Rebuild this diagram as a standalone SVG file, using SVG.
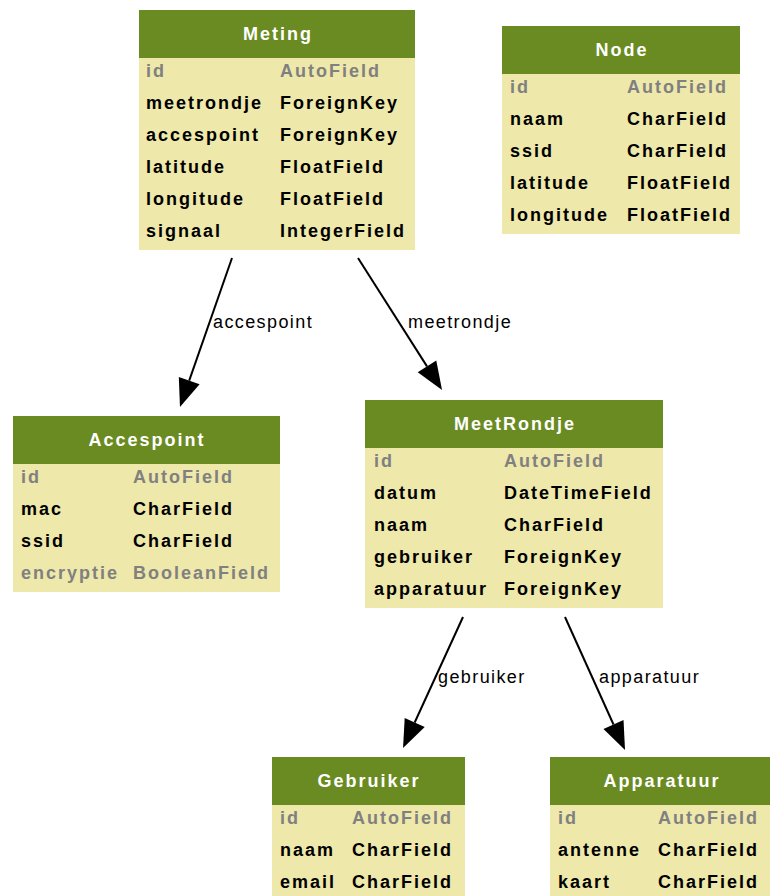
<svg xmlns="http://www.w3.org/2000/svg" width="770" height="896" viewBox="0 0 770 896">
<defs>
<marker id="arr" markerUnits="userSpaceOnUse" markerWidth="30" markerHeight="24" refX="0" refY="11" orient="auto" overflow="visible">
<path d="M0,0 L28,11 L0,22 z" fill="#000"/>
</marker>
<style>
.hd{fill:#698b22;}
.bd{fill:#eee8aa;}
.t{font-family:"Liberation Sans",Arial,sans-serif;font-size:18px;font-weight:bold;letter-spacing:2px;fill:#000;}
.g{fill:#808080;}
.ttl{font-family:"Liberation Sans",Arial,sans-serif;font-size:18px;font-weight:bold;letter-spacing:2px;fill:#fff;text-anchor:middle;}
.e{stroke:#000;stroke-width:2;fill:none;marker-end:url(#arr);}
.lb{font-family:"Liberation Sans",Arial,sans-serif;font-size:18px;letter-spacing:1.4px;fill:#000;}
</style>
</defs>
<rect width="770" height="896" fill="#fff"/>

<g id="connectors">
<line class="e" x1="232" y1="258" x2="189.2" y2="380.6"/>
<text class="lb" x="213" y="328">accespoint</text>
<line class="e" x1="358" y1="258" x2="427" y2="366.4"/>
<text class="lb" x="408" y="328">meetrondje</text>
<line class="e" x1="463" y1="617" x2="414.7" y2="722.5"/>
<text class="lb" x="438" y="683">gebruiker</text>
<line class="e" x1="565" y1="617" x2="613.5" y2="724.5"/>
<text class="lb" x="599" y="683">apparatuur</text>
</g>

<g id="node-meting">
<rect class="bd" x="139" y="58" width="276" height="192"/>
<rect class="hd" x="139" y="10" width="276" height="48"/>
<text class="ttl" x="278" y="40">Meting</text>
<text class="t g" x="146" y="77">id</text><text class="t g" x="280" y="77">AutoField</text>
<text class="t" x="146" y="109">meetrondje</text><text class="t" x="280" y="109">ForeignKey</text>
<text class="t" x="146" y="141">accespoint</text><text class="t" x="280" y="141">ForeignKey</text>
<text class="t" x="146" y="173">latitude</text><text class="t" x="280" y="173">FloatField</text>
<text class="t" x="146" y="205">longitude</text><text class="t" x="280" y="205">FloatField</text>
<text class="t" x="146" y="237">signaal</text><text class="t" x="280" y="237">IntegerField</text>
</g>

<g id="node-node">
<rect class="bd" x="502" y="74" width="238" height="160"/>
<rect class="hd" x="502" y="26" width="238" height="48"/>
<text class="ttl" x="622" y="56">Node</text>
<text class="t g" x="510" y="93">id</text><text class="t g" x="627" y="93">AutoField</text>
<text class="t" x="510" y="125">naam</text><text class="t" x="627" y="125">CharField</text>
<text class="t" x="510" y="157">ssid</text><text class="t" x="627" y="157">CharField</text>
<text class="t" x="510" y="189">latitude</text><text class="t" x="627" y="189">FloatField</text>
<text class="t" x="510" y="221">longitude</text><text class="t" x="627" y="221">FloatField</text>
</g>

<g id="node-accespoint">
<rect class="bd" x="13" y="464" width="267" height="128"/>
<rect class="hd" x="13" y="416" width="267" height="48"/>
<text class="ttl" x="147" y="446">Accespoint</text>
<text class="t g" x="21" y="483">id</text><text class="t g" x="133" y="483">AutoField</text>
<text class="t" x="21" y="515">mac</text><text class="t" x="133" y="515">CharField</text>
<text class="t" x="21" y="547">ssid</text><text class="t" x="133" y="547">CharField</text>
<text class="t g" x="21" y="579">encryptie</text><text class="t g" x="133" y="579">BooleanField</text>
</g>

<g id="node-meetrondje">
<rect class="bd" x="365" y="448" width="298" height="160"/>
<rect class="hd" x="365" y="400" width="298" height="48"/>
<text class="ttl" x="515" y="430">MeetRondje</text>
<text class="t g" x="374" y="467">id</text><text class="t g" x="504" y="467">AutoField</text>
<text class="t" x="374" y="499">datum</text><text class="t" x="504" y="499">DateTimeField</text>
<text class="t" x="374" y="531">naam</text><text class="t" x="504" y="531">CharField</text>
<text class="t" x="374" y="563">gebruiker</text><text class="t" x="504" y="563">ForeignKey</text>
<text class="t" x="374" y="595">apparatuur</text><text class="t" x="504" y="595">ForeignKey</text>
</g>

<g id="node-gebruiker">
<rect class="bd" x="272" y="805" width="193" height="96"/>
<rect class="hd" x="272" y="757" width="193" height="48"/>
<text class="ttl" x="369" y="787">Gebruiker</text>
<text class="t g" x="280" y="824">id</text><text class="t g" x="352" y="824">AutoField</text>
<text class="t" x="280" y="856">naam</text><text class="t" x="352" y="856">CharField</text>
<text class="t" x="280" y="888">email</text><text class="t" x="352" y="888">CharField</text>
</g>

<g id="node-apparatuur">
<rect class="bd" x="550" y="805" width="222" height="96"/>
<rect class="hd" x="550" y="757" width="222" height="48"/>
<text class="ttl" x="662" y="787">Apparatuur</text>
<text class="t g" x="558" y="824">id</text><text class="t g" x="658" y="824">AutoField</text>
<text class="t" x="558" y="856">antenne</text><text class="t" x="658" y="856">CharField</text>
<text class="t" x="558" y="888">kaart</text><text class="t" x="658" y="888">CharField</text>
</g>
</svg>
